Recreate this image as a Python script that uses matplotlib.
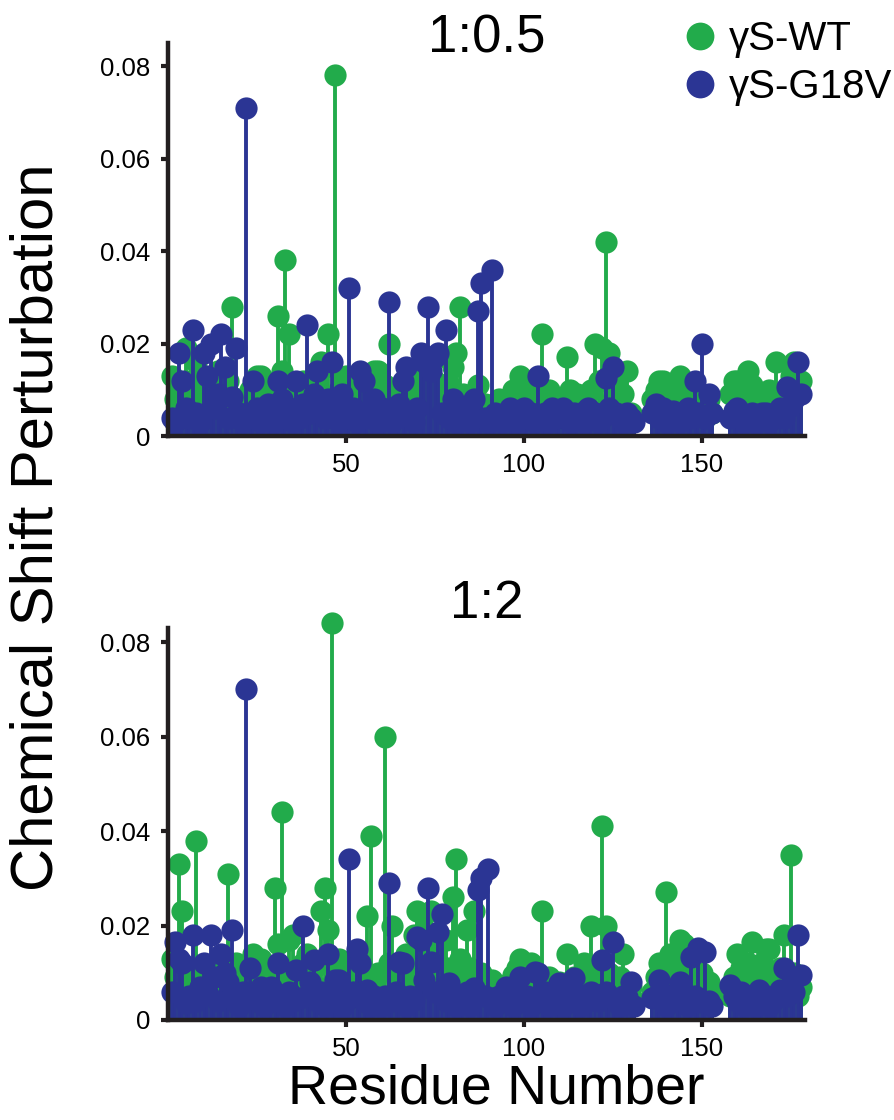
import numpy as np
import matplotlib.pyplot as plt
from matplotlib.lines import Line2D

plt.rcParams['font.family'] = ['Liberation Sans', 'DejaVu Sans']

nan = np.nan

# residue numbers (NaN in a series = residue not assigned)
residues = np.arange(1, 179)

# 1:0.5 titration, gamma S-WT
wt_05 = [
    0.013, 0.008, 0.010, 0.006, 0.019, 0.012, 0.009, 0.016, 0.005, 0.011,
    0.007, 0.010, 0.004, 0.014, 0.006, 0.009, 0.012, 0.028, 0.005, 0.008,
    0.003, 0.006, 0.010, 0.004, 0.013, 0.013, 0.006, 0.009, 0.005, 0.011,
    0.026, 0.014, 0.038, 0.022, 0.008, 0.010, 0.005, 0.012, 0.007, 0.009,
    0.004, 0.011, 0.016, 0.015, 0.022, 0.006, 0.078, 0.010, 0.005, 0.013,
    0.008, 0.012, 0.006, 0.010, 0.004, 0.009, 0.007, 0.014, 0.014, 0.006,
    0.011, 0.020, 0.008, 0.005, 0.010, 0.007, 0.012, 0.006, 0.014, 0.009,
    0.005, 0.011, 0.008, 0.016, 0.012, 0.006, 0.010, 0.017, 0.011, 0.015,
    0.018, 0.028, 0.009, 0.006, 0.004, 0.008, 0.011, 0.005, 0.007, 0.003,
    0.006, 0.004, 0.008, 0.005, 0.003, 0.007, 0.010, 0.009, 0.013, 0.011,
    0.007, 0.012, 0.009, 0.006, 0.022, 0.008, 0.010, 0.005, 0.007, 0.004,
    0.008, 0.017, 0.010, 0.006, 0.009, 0.005, 0.007, 0.004, 0.010, 0.020,
    0.012, 0.019, 0.042, 0.018, 0.008, 0.011, 0.006, 0.009, 0.014, 0.005,
    0.004, nan, nan, nan, nan, 0.008, 0.010, 0.012, 0.012, 0.007,
    0.009, 0.006, 0.011, 0.013, 0.010, 0.008, 0.005, 0.007, 0.009, 0.006,
    0.004, 0.008, 0.005, nan, nan, nan, nan, 0.009, 0.012, 0.012,
    0.010, 0.008, 0.014, 0.011, 0.006, 0.009, 0.007, 0.005, 0.010, 0.008,
    0.016, 0.006, 0.009, 0.007, 0.013, 0.016, 0.011, 0.012,
]

# 1:0.5 titration, gamma S-G18V
g18v_05 = [
    0.004, 0.003, 0.018, 0.012, 0.006, 0.004, 0.023, 0.005, 0.003, 0.018,
    0.013, 0.020, 0.006, 0.009, 0.022, 0.015, 0.004, 0.0085, 0.019, 0.005,
    0.003, 0.071, 0.004, 0.012, 0.006, 0.003, 0.005, 0.007, 0.004, 0.003,
    0.012, 0.008, 0.004, 0.006, 0.003, 0.012, 0.004, 0.007, 0.024, 0.005,
    0.009, 0.014, 0.006, 0.004, 0.008, 0.016, 0.005, 0.003, 0.009, 0.004,
    0.032, 0.006, 0.003, 0.014, 0.012, 0.005, 0.004, 0.008, 0.003, 0.006,
    0.004, 0.029, 0.003, 0.005, 0.007, 0.012, 0.015, 0.004, 0.003, 0.006,
    0.018, 0.016, 0.028, 0.014, 0.017, 0.018, 0.005, 0.023, 0.004, 0.008,
    0.003, 0.005, 0.004, 0.006, 0.003, 0.008, 0.027, 0.033, 0.004, 0.003,
    0.036, 0.005, 0.004, 0.003, 0.005, 0.006, 0.004, 0.003, 0.005, 0.006,
    0.004, 0.005, 0.003, 0.013, 0.004, 0.005, 0.003, 0.006, 0.004, 0.005,
    0.006, 0.004, 0.003, 0.005, 0.004, 0.005, 0.003, 0.006, 0.004, 0.005,
    0.003, 0.004, 0.0125, 0.006, 0.015, 0.005, 0.004, 0.003, 0.005, 0.004,
    0.003, nan, nan, nan, nan, 0.005, 0.007, 0.004, 0.006, 0.003,
    0.005, 0.0055, 0.004, 0.003, 0.005, 0.006, 0.004, 0.012, 0.005, 0.020,
    0.004, 0.009, 0.005, nan, nan, nan, nan, 0.004, 0.0055, 0.006,
    0.005, 0.003, 0.004, 0.005, 0.003, 0.004, 0.005, 0.005, 0.003, 0.004,
    0.005, 0.006, 0.004, 0.0105, 0.0065, 0.008, 0.016, 0.009,
]

# 1:2 titration, gamma S-WT
wt_2 = [
    0.013, 0.009, 0.033, 0.023, 0.011, 0.007, 0.008, 0.038, 0.006, 0.010,
    0.005, 0.009, 0.005, 0.012, 0.007, 0.010, 0.031, 0.006, 0.012, 0.008,
    0.004, 0.010, 0.006, 0.014, 0.009, 0.013, 0.004, 0.011, 0.007, 0.028,
    0.016, 0.044, 0.009, 0.017, 0.018, 0.010, 0.006, 0.012, 0.014, 0.008,
    0.011, 0.007, 0.023, 0.028, 0.019, 0.084, 0.010, 0.013, 0.006, 0.009,
    0.012, 0.005, 0.008, 0.011, 0.006, 0.022, 0.039, 0.007, 0.010, 0.005,
    0.060, 0.012, 0.020, 0.009, 0.006, 0.011, 0.014, 0.008, 0.018, 0.023,
    0.016, 0.019, 0.010, 0.023, 0.015, 0.012, 0.009, 0.017, 0.011, 0.026,
    0.034, 0.013, 0.008, 0.019, 0.011, 0.023, 0.006, 0.010, 0.005, 0.008,
    0.0085, 0.006, 0.004, 0.007, 0.005, 0.008, 0.0095, 0.011, 0.013, 0.010,
    0.006, 0.012, 0.008, 0.005, 0.023, 0.007, 0.009, 0.004, 0.006, 0.008,
    0.005, 0.014, 0.007, 0.009, 0.004, 0.006, 0.012, 0.008, 0.020, 0.011,
    0.007, 0.041, 0.020, 0.010, 0.008, 0.006, 0.009, 0.014, 0.005, 0.007,
    0.004, nan, nan, nan, nan, 0.006, 0.009, 0.012, 0.008, 0.027,
    0.014, 0.010, 0.0145, 0.017, 0.016, 0.011, 0.007, 0.009, 0.006, 0.010,
    0.005, 0.008, 0.006, nan, nan, nan, nan, 0.005, 0.009, 0.014,
    0.011, 0.008, 0.012, 0.0165, 0.010, 0.007, 0.012, 0.015, 0.015, 0.009,
    0.006, 0.011, 0.018, 0.008, 0.035, 0.010, 0.005, 0.007,
]

# 1:2 titration, gamma S-G18V
g18v_2 = [
    0.006, 0.0165, 0.013, 0.012, 0.0036, 0.005, 0.018, 0.004, 0.007, 0.012,
    0.006, 0.018, 0.009, 0.004, 0.014, 0.010, 0.008, 0.019, 0.005, 0.003,
    0.006, 0.070, 0.011, 0.005, 0.004, 0.007, 0.003, 0.006, 0.007, 0.004,
    0.012, 0.005, 0.003, 0.006, 0.004, 0.0105, 0.0046, 0.020, 0.005, 0.008,
    0.0127, 0.004, 0.006, 0.003, 0.014, 0.005, 0.0085, 0.0085, 0.0028, 0.004,
    0.034, 0.006, 0.015, 0.012, 0.004, 0.0063, 0.003, 0.005, 0.0042, 0.003,
    0.005, 0.029, 0.004, 0.006, 0.0123, 0.012, 0.003, 0.005, 0.0042, 0.0175,
    0.017, 0.0085, 0.028, 0.0123, 0.006, 0.0186, 0.0224, 0.004, 0.0078, 0.004,
    0.003, 0.005, 0.004, 0.006, 0.003, 0.0068, 0.0275, 0.030, 0.005, 0.032,
    0.0046, 0.003, 0.005, 0.004, 0.007, 0.005, 0.003, 0.006, 0.0092, 0.004,
    0.005, 0.003, 0.0102, 0.0099, 0.004, 0.006, 0.003, 0.005, 0.004, 0.0078,
    0.003, 0.005, 0.006, 0.0089, 0.004, 0.003, 0.005, 0.004, 0.006, 0.0053,
    0.004, 0.0127, 0.006, 0.005, 0.0165, 0.004, 0.003, 0.005, 0.0049, 0.008,
    0.003, nan, nan, nan, nan, 0.0046, 0.005, 0.0085, 0.004, 0.003,
    0.005, 0.004, 0.006, 0.008, 0.004, 0.003, 0.0133, 0.005, 0.0152, 0.0038,
    0.0145, 0.004, 0.003, nan, nan, nan, nan, 0.0074, 0.005, 0.004,
    0.006, 0.003, 0.005, 0.004, 0.003, 0.0063, 0.004, 0.005, 0.003, 0.004,
    0.005, 0.0063, 0.011, 0.005, 0.007, 0.006, 0.018, 0.0095,
]

panel_titles = ['1:0.5', '1:2']
series_labels = ['\u03b3S-WT', '\u03b3S-G18V']
ytick_vals = [0, 0.02, 0.04, 0.06, 0.08]
ytick_labels = ['0', '0.02', '0.04', '0.06', '0.08']
xtick_vals = [50, 100, 150]

green = '#22AB4B'
blue = '#2B3594'
ink = '#231F20'


def draw_panel(ax, wt, mut, title, ytop, title_y):
    for vals, color in ((wt, green), (mut, blue)):
        v = np.array(vals, dtype=float)
        ok = ~np.isnan(v)
        ax.vlines(residues[ok], 0, v[ok], color=color, lw=2.8)
        ax.plot(residues[ok], v[ok], 'o', color=color, ms=16, mec='none',
                clip_on=False)
    ax.set_xlim(0, 179)
    ax.set_ylim(0, ytop)
    ax.set_yticks(ytick_vals)
    ax.set_yticklabels(ytick_labels)
    ax.set_xticks(xtick_vals)
    for s in ['top', 'right']:
        ax.spines[s].set_visible(False)
    for s in ['left', 'bottom']:
        ax.spines[s].set_linewidth(3.2)
        ax.spines[s].set_color(ink)
    ax.tick_params(axis='both', direction='out', length=5, width=3,
                   color=ink, labelsize=18.5, pad=7)
    ax.tick_params(axis='y', pad=8)
    ax.text(0.5, title_y, title, transform=ax.transAxes, ha='center',
            va='baseline', fontsize=38)


fig = plt.figure(figsize=(8.95, 11.2), dpi=100)
ax1 = fig.add_axes([0.1877, 0.6107, 0.7117, 0.3509])
ax2 = fig.add_axes([0.1877, 0.0893, 0.7117, 0.3500])

draw_panel(ax1, wt_05, g18v_05, panel_titles[0], 0.085, 0.975)
draw_panel(ax2, wt_2, g18v_2, panel_titles[1], 0.083, 1.026)

fig.text(0.041, 0.529, 'Chemical Shift Perturbation', rotation=90,
         ha='center', va='center', fontsize=43)
fig.text(0.555, 0.027, 'Residue Number', ha='center', va='center',
         fontsize=40)

handles = [Line2D([], [], ls='none', marker='o', ms=20, color=c, mec='none')
           for c in (green, blue)]
fig.legend(handles, series_labels, loc='upper left',
           bbox_to_anchor=(0.751, 0.989), frameon=False, fontsize=29,
           handlelength=1.0, handletextpad=0.2, labelspacing=0.25,
           borderpad=0.2, borderaxespad=0)

fig.savefig('out.png', dpi=100)
